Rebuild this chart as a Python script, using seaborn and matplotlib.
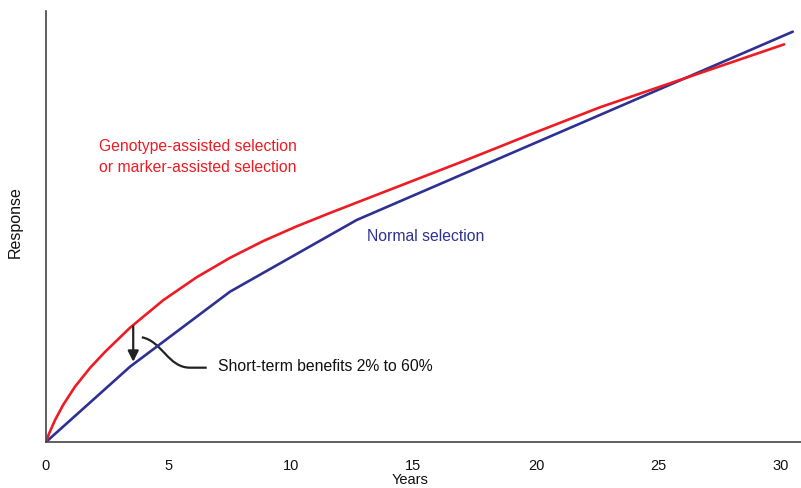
import numpy as np
import pandas as pd
import matplotlib.pyplot as plt
from matplotlib.path import Path
from matplotlib.patches import PathPatch
import seaborn as sns

# Curva de selección asistida por genotipo / marcadores
gas_years = [0, 0.12, 0.37, 0.7, 1.18, 1.8, 2.41, 3.43, 4.79, 6.15, 7.51, 8.87, 10.23, 11.59,
             12.95, 14.31, 15.67, 17.03, 18.40, 19.76, 20.98, 22.61, 25.54, 30.13]
gas_response = [0, 1.9, 5.1, 8.6, 12.8, 17.2, 20.9, 26.5, 32.9, 38.2, 42.7, 46.6, 50.0, 53.1,
                56.1, 59.1, 62.1, 65.1, 68.2, 71.3, 74.0, 77.6, 83.3, 92.2]

# Selección normal (tramos casi rectos)
normal_years = [0, 3.43, 7.51, 12.68, 30.48]
normal_response = [0, 17.46, 34.85, 51.47, 95.13]

year_ticks = [0, 5, 10, 15, 20, 25, 30]

red = '#ED1C24'
blue = '#2E3192'

sns.set_style('white')
plt.rcParams['font.family'] = ['Liberation Sans', 'DejaVu Sans']

fig = plt.figure(figsize=(8.01, 4.88), dpi=100)
ax = fig.add_axes([46 / 801, 46 / 488, 755 / 801, 431.3 / 488])

gas_df = pd.DataFrame({'year': gas_years, 'response': gas_response})
normal_df = pd.DataFrame({'year': normal_years, 'response': normal_response})

sns.lineplot(data=normal_df, x='year', y='response', color=blue, linewidth=1.9, ax=ax)
sns.lineplot(data=gas_df, x='year', y='response', color=red, linewidth=1.9, ax=ax)

ax.set_xlim(0, 755 / 24.5)
ax.set_ylim(0, 100)
ax.set_xticks(year_ticks)
ax.set_yticks([])
ax.tick_params(axis='x', length=0, pad=12, labelsize=10.5, colors='#111111')
sns.despine(ax=ax)
for side in ['left', 'bottom']:
    ax.spines[side].set_color('#444444')
    ax.spines[side].set_linewidth(1.2)

ax.set_xlabel('Years', fontsize=10.5, color='#111111')
ax.xaxis.set_label_coords(0.482, -0.072)
ax.set_ylabel('')
fig.text(15 / 801, 1 - 222 / 488, 'Response', rotation=90, ha='center', va='center',
         fontsize=11.5, color='#111111')

# Etiquetas de las curvas
ax.text(2.17, 66.1, 'Genotype-assisted selection\nor marker-assisted selection',
        color=red, fontsize=11.3, ha='left', va='center', linespacing=1.45)
ax.text(13.1, 47.6, 'Normal selection', color=blue, fontsize=11.3, ha='left', va='center')

# Flecha de beneficio a corto plazo
arrow_x = 3.56
arrow_top = np.interp(arrow_x, gas_years, gas_response)
ax.annotate('', xy=(arrow_x, 18.6), xytext=(arrow_x, arrow_top - 0.3),
            arrowprops=dict(arrowstyle='-|>', color='#222222', lw=1.6,
                            mutation_scale=16, shrinkA=0, shrinkB=0))

verts = [(3.91, 24.28), (4.74, 23.4), (4.98, 17.23), (5.88, 17.23), (6.56, 17.23)]
codes = [Path.MOVETO, Path.CURVE4, Path.CURVE4, Path.CURVE4, Path.LINETO]
ax.add_patch(PathPatch(Path(verts, codes), facecolor='none', edgecolor='#222222', lw=1.6))
ax.text(7.03, 17.46, 'Short-term benefits 2% to 60%', fontsize=11.3, color='#111111',
        ha='left', va='center')

fig.savefig('out.png', dpi=100)
